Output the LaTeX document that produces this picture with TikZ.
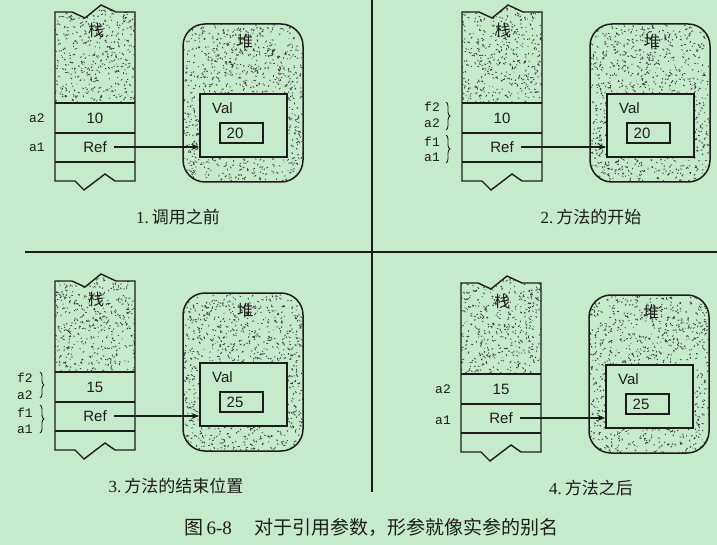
\documentclass[tikz,border=0pt]{standalone}
\usepackage{fontspec}
\setmainfont{Liberation Serif}
\newfontfamily\cjk{Noto Sans CJK SC}
\newfontfamily\arial{Liberation Sans}
\newfontfamily\mono{Liberation Mono}
\usetikzlibrary{decorations.pathreplacing,arrows.meta}
\definecolor{bg}{HTML}{C6EBCA}
\definecolor{ink}{HTML}{1C1C1C}
\tikzset{
 outline/.style={draw=ink, line width=1.4pt, line join=miter},
 sepline/.style={draw=ink, line width=1.1pt},
 stip/.style={draw=ink!85, line width=0.8pt, line cap=round},
 cell/.style={inner sep=0pt, font=\arial\fontsize{15}{15}\selectfont, text=ink},
 lab/.style={inner sep=0pt, font=\mono\fontsize{13}{13}\selectfont, text=ink},
 cjklab/.style={inner sep=0pt, font=\cjk\fontsize{16}{16}\selectfont, text=ink},
 capt/.style={inner sep=0pt, font=\fontsize{17}{17}\selectfont, text=ink},
 figcapt/.style={inner sep=0pt, font=\fontsize{19}{19}\selectfont, text=ink},
 arr/.style={draw=ink, line width=1.1pt, -{Stealth[length=8pt,width=6pt]}},
 brc/.style={draw=ink, line width=0.9pt, decorate, decoration={brace, amplitude=4pt}},
 divider/.style={draw=ink, line width=1.8pt},
}
% #1 prefix, #2 dx, #3 dy, #4 stack value, #5 heap value, #6 caption x, #7 caption, #8 seed
\newcommand{\mypanel}[8]{%
\begin{scope}[shift={(#2,#3)}]
 \pgfmathsetseed{#8}
 \begin{scope}
  \clip (55,12) -- (72,12) -- (85,18) -- (101,5) -- (116,12) -- (135,12) -- (135,103) -- (55,103) -- cycle;
  \draw[stip] \foreach \i in {1,...,480}{({54+82*rnd},{3+101*rnd}) -- ++({3*rnd-1.5},{3*rnd-1.5})};
 \end{scope}
 \draw[outline] (55,181) -- (55,12) -- (72,12) -- (85,18) -- (101,5) -- (116,12) -- (135,12) -- (135,181) -- (115,181) -- (105,174) -- (84,190) -- (75,181) -- cycle;
 \draw[sepline] (55,103) -- (135,103) (55,133) -- (135,133) (55,162) -- (135,162);
 \node[cjklab] (#1stk) at (96,30) {栈};
 \node[cell] (#1v2) at (95,118) {#4};
 \node[cell] (#1ref) at (95,147) {Ref};
 \begin{scope}
  \clip[rounded corners=22pt] (183,24) rectangle (303,182);
  \draw[stip] \foreach \i in {1,...,1150}{({181+124*rnd},{22+162*rnd}) -- ++({3*rnd-1.5},{3*rnd-1.5})};
 \end{scope}
 \node[draw=ink, line width=1.5pt, rounded corners=22pt, minimum width=120pt, minimum height=158pt, inner sep=0pt] (#1heap) at (243,103) {};
 \node[cjklab] (#1hp) at (245,41) {堆};
 \node[draw=ink, line width=1.4pt, fill=bg, minimum width=87pt, minimum height=63pt, inner sep=0pt] (#1val) at (243.5,125.5) {};
 \node[cell, anchor=west] (#1valt) at (212,108) {Val};
 \node[draw=ink, line width=1.3pt, minimum width=43pt, minimum height=20pt, inner sep=0pt] (#1box) at (241.5,133) {};
 \node[cell] (#1num) at (235,133) {#5};
 \draw[arr] ([xshift=7pt]#1ref.east) -- (#1ref.east -| #1val.west);
 \node[capt] (#1cap) at (#6,217) {#7};
\end{scope}}

\begin{document}
\begin{tikzpicture}[x=1pt,y=-1pt]
\fill[bg] (0,0) rectangle (717,545);
\useasboundingbox (0,0) rectangle (717,545);

\draw[divider] (25,252) -- (717,252);
\draw[divider] (372,0) -- (372,492);

\mypanel{pa}{0}{0}{10}{20}{178}{1.\,{\cjk 调用之前}}{11}
\mypanel{pb}{407}{0}{10}{20}{184}{2.\,{\cjk 方法的开始}}{23}
\mypanel{pc}{0}{269}{15}{25}{176}{3.\,{\cjk 方法的结束位置}}{37}
\mypanel{pd}{406}{271}{15}{25}{185}{4.\,{\cjk 方法之后}}{53}

% labels panel 1
\begin{scope}
 \node[lab] (la2) at (37,118) {a2};
 \node[lab] (la1) at (37,147) {a1};
\end{scope}
% labels panel 2
\begin{scope}[shift={(407,0)}]
 \node[lab] (lbf2) at (25,107) {f2};
 \node[lab] (lba2) at (25,123) {a2};
 \node[lab] (lbf1) at (25,142) {f1};
 \node[lab] (lba1) at (25,157) {a1};
 \draw[brc] (39,102) -- (39,130);
 \draw[brc] (39,135) -- (39,163);
\end{scope}
% labels panel 3
\begin{scope}[shift={(0,269)}]
 \node[lab] (lcf2) at (25,109) {f2};
 \node[lab] (lca2) at (25,126) {a2};
 \node[lab] (lcf1) at (25,144) {f1};
 \node[lab] (lca1) at (25,160) {a1};
 \draw[brc] (40,103) -- (40,129);
 \draw[brc] (40,136) -- (40,164);
\end{scope}
% labels panel 4
\begin{scope}[shift={(406,271)}]
 \node[lab] (lda2) at (37,118) {a2};
 \node[lab] (lda1) at (37,149) {a1};
\end{scope}

\node[figcapt] (figcap) at (371.5,527) {{\cjk 图}\,6-8\hspace{1.2em}{\cjk 对于引用参数，形参就像实参的别名}};
\end{tikzpicture}
\end{document}
